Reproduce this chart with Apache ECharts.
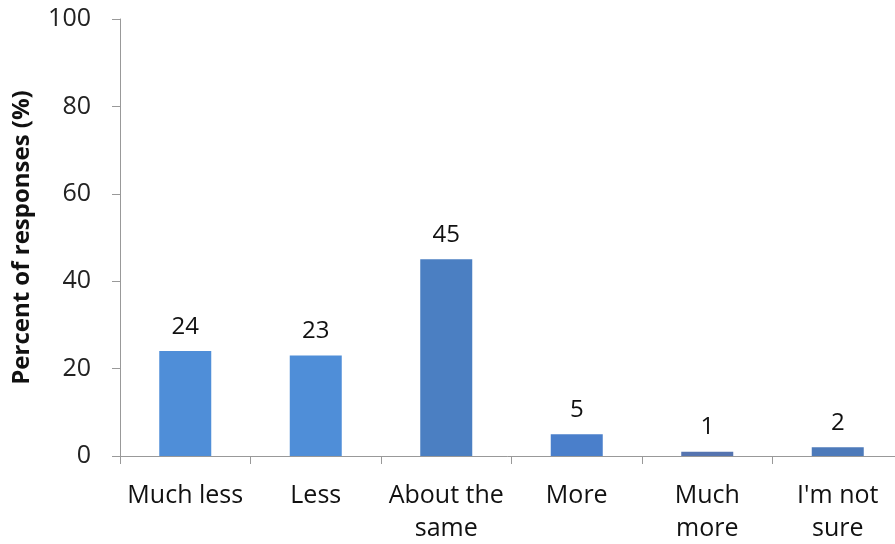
<!DOCTYPE html>
<html>
<head>
<meta charset="utf-8">
<script src="https://cdn.jsdelivr.net/npm/echarts@6/dist/echarts.min.js"></script>
<style>html,body{margin:0;padding:0;background:#fff}#c{width:895px;height:544px}</style>
</head>
<body>
<div id="c"></div>
<script>
const categories = ['Much less', 'Less', 'About the\nsame', 'More', 'Much\nmore', "I'm not\nsure"];
const values = [24, 23, 45, 5, 1, 2];
const barColors = ['#4f8ed8', '#4f8ed8', '#4b7fc2', '#4a7fcb', '#5574b0', '#4d7aba'];
const yTicks = { min: 0, max: 100, interval: 20 };

const chart = echarts.init(document.getElementById('c'));
const FONT = '"Open Sans", "Noto Sans", sans-serif';
chart.setOption({
  animation: false,
  grid: { left: 120, right: -8, top: 19, bottom: 88, containLabel: false, outerBoundsMode: 'none' },
  xAxis: {
    type: 'category',
    data: categories,
    axisLine: { lineStyle: { color: '#999', width: 1 } },
    axisTick: { show: true, length: 8, lineStyle: { color: '#999' } },
    axisLabel: { color: '#111', fontSize: 25, fontFamily: FONT, lineHeight: 33, margin: 23, interval: 0 }
  },
  yAxis: {
    type: 'value',
    min: yTicks.min, max: yTicks.max, interval: yTicks.interval,
    name: 'Percent of responses (%)',
    nameLocation: 'middle',
    nameGap: 86,
    nameTextStyle: { color: '#111', fontSize: 24, fontWeight: 'bold', fontFamily: FONT },
    axisLine: { show: true, lineStyle: { color: '#999', width: 1 } },
    axisTick: { show: true, length: 8, lineStyle: { color: '#999' } },
    axisLabel: { color: '#222', fontSize: 25, fontFamily: FONT, margin: 29 },
    splitLine: { show: false }
  },
  series: [{
    type: 'bar',
    data: values.map((v, i) => ({ value: v, itemStyle: { color: barColors[i] } })),
    barWidth: 52,
    label: { show: true, position: 'top', distance: 12, color: '#111', fontSize: 24, fontFamily: FONT }
  }]
});
</script>
</body>
</html>
